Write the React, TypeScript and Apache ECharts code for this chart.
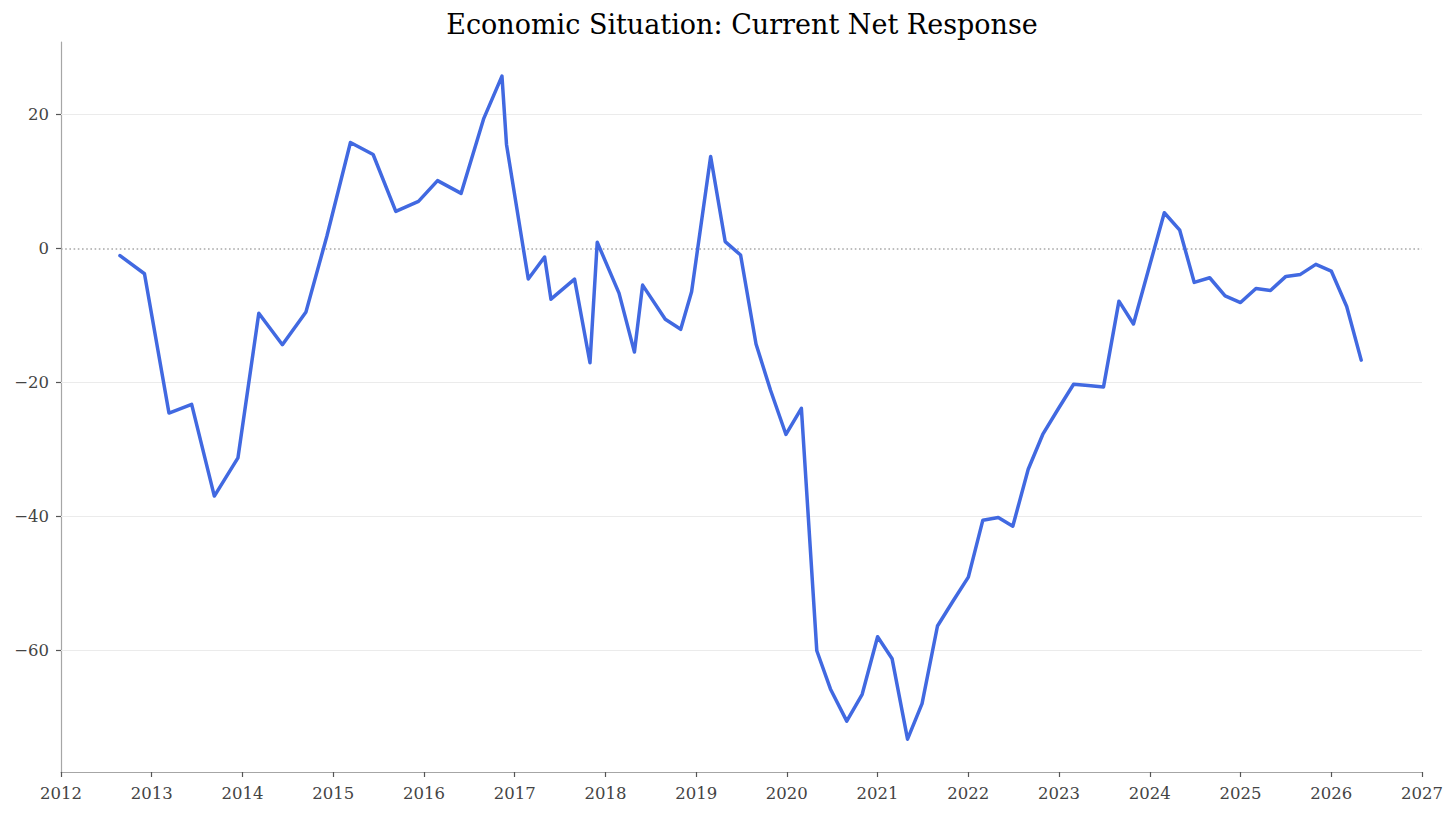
import React, { useEffect, useRef } from "react";
import * as echarts from "echarts";

const TITLE = "Economic Situation: Current Net Response";

const years: number[] = [
  2012.65, 2012.92, 2013.19, 2013.44, 2013.69, 2013.95, 2014.18, 2014.44, 2014.70, 2014.93,
  2015.19, 2015.44, 2015.69, 2015.94, 2016.15, 2016.41, 2016.66, 2016.86, 2016.91, 2017.15,
  2017.33, 2017.40, 2017.66, 2017.83, 2017.91, 2018.15, 2018.32, 2018.41, 2018.66, 2018.83,
  2018.95, 2019.16, 2019.32, 2019.49, 2019.66, 2019.82, 2019.99, 2020.16, 2020.33, 2020.48,
  2020.66, 2020.83, 2021.00, 2021.16, 2021.33, 2021.49, 2021.66, 2021.83, 2022.00, 2022.16,
  2022.33, 2022.49, 2022.66, 2022.82, 2022.99, 2023.16, 2023.32, 2023.49, 2023.66, 2023.82,
  2024.00, 2024.16, 2024.33, 2024.49, 2024.66, 2024.83, 2025.00, 2025.17, 2025.33, 2025.50,
  2025.66, 2025.83, 2026.00, 2026.17, 2026.33,
];

const netResponse: number[] = [
  -1.1, -3.8, -24.6, -23.3, -37.0, -31.3, -9.7, -14.4, -9.5, 1.8,
  15.8, 14.0, 5.5, 7.0, 10.1, 8.2, 19.4, 25.7, 15.5, -4.6,
  -1.3, -7.6, -4.6, -17.1, 0.9, -6.7, -15.5, -5.5, -10.6, -12.1,
  -6.5, 13.7, 1.0, -1.0, -14.3, -21.2, -27.8, -23.9, -60.1, -65.8,
  -70.6, -66.6, -58.0, -61.3, -73.3, -68.0, -56.4, -52.7, -49.1, -40.6,
  -40.2, -41.5, -33.0, -27.8, -24.0, -20.3, -20.5, -20.7, -7.9, -11.3,
  -2.5, 5.3, 2.7, -5.1, -4.4, -7.1, -8.1, -6.0, -6.3, -4.2,
  -3.9, -2.4, -3.4, -8.7, -16.7,
];

const yTicks: number[] = [-60, -40, -20, 0, 20];
const gridValues: number[] = [-60, -40, -20, 20];
const zeroValue = 0;

const X_MIN = 2012;
const X_MAX = 2027;
const Y_MIN = -78.2;
const Y_MAX = 30.8;

const FONT = '"DejaVu Serif", serif';

export default function App() {
  const ref = useRef<HTMLDivElement>(null);

  useEffect(() => {
    document.body.style.margin = "0";
    if (!ref.current) return;
    const chart = echarts.init(ref.current, undefined, { renderer: "svg" });
    const data = years.map((y, i) => [y, netResponse[i]]);

    chart.setOption({
      animation: false,
      backgroundColor: "#ffffff",
      textStyle: { fontFamily: FONT },
      grid: {
        left: 61,
        right: 34,
        top: 42,
        bottom: 41,
        containLabel: false,
        outerBoundsMode: "none",
      },
      graphic: [
        {
          type: "text",
          x: 742,
          y: 24,
          z: 100,
          style: {
            text: TITLE,
            font: `27px ${FONT}`,
            fill: "#000000",
            align: "center",
            verticalAlign: "middle",
            textAlign: "center",
            textVerticalAlign: "middle",
          },
        },
      ],
      xAxis: {
        type: "value",
        min: X_MIN,
        max: X_MAX,
        interval: 1,
        axisLine: { show: true, onZero: false, lineStyle: { color: "#a6a6a6", width: 1.2 } },
        axisTick: { show: true, length: 5, lineStyle: { color: "#555555", width: 1.2 } },
        axisLabel: {
          color: "#444444",
          fontFamily: FONT,
          fontSize: 16.5,
          margin: 13,
          formatter: (v: number) => String(Math.round(v)),
        },
        splitLine: { show: false },
      },
      yAxis: {
        type: "value",
        min: Y_MIN,
        max: Y_MAX,
        axisLine: { show: true, onZero: false, lineStyle: { color: "#a6a6a6", width: 1.2 } },
        axisTick: {
          show: true,
          length: 5,
          customValues: yTicks,
          lineStyle: { color: "#555555", width: 1.2 },
        },
        axisLabel: {
          color: "#444444",
          fontFamily: FONT,
          fontSize: 16.5,
          margin: 12,
          customValues: yTicks,
          formatter: (v: number) => String(v).replace("-", "\u2212"),
        },
        splitLine: { show: false },
      },
      series: [
        {
          type: "line",
          data: [],
          z: 1,
          silent: true,
          markLine: {
            silent: true,
            symbol: "none",
            label: { show: false },
            data: [
              ...gridValues.map((v) => ({
                yAxis: v,
                lineStyle: { color: "#ebebeb", width: 1, type: "solid" },
              })),
              {
                yAxis: zeroValue,
                lineStyle: { color: "#a8a8a8", width: 1.6, type: [1.6, 2.6] },
              },
            ],
          },
        },
        {
          type: "line",
          data,
          z: 10,
          showSymbol: false,
          symbol: "none",
          lineStyle: { color: "#4169e1", width: 3.5, join: "round", cap: "round" },
          itemStyle: { color: "#4169e1" },
        },
      ],
    });

    return () => chart.dispose();
  }, []);

  return (
    <div
      ref={ref}
      style={{ position: "fixed", left: 0, top: 0, width: 1456, height: 813 }}
    />
  );
}
